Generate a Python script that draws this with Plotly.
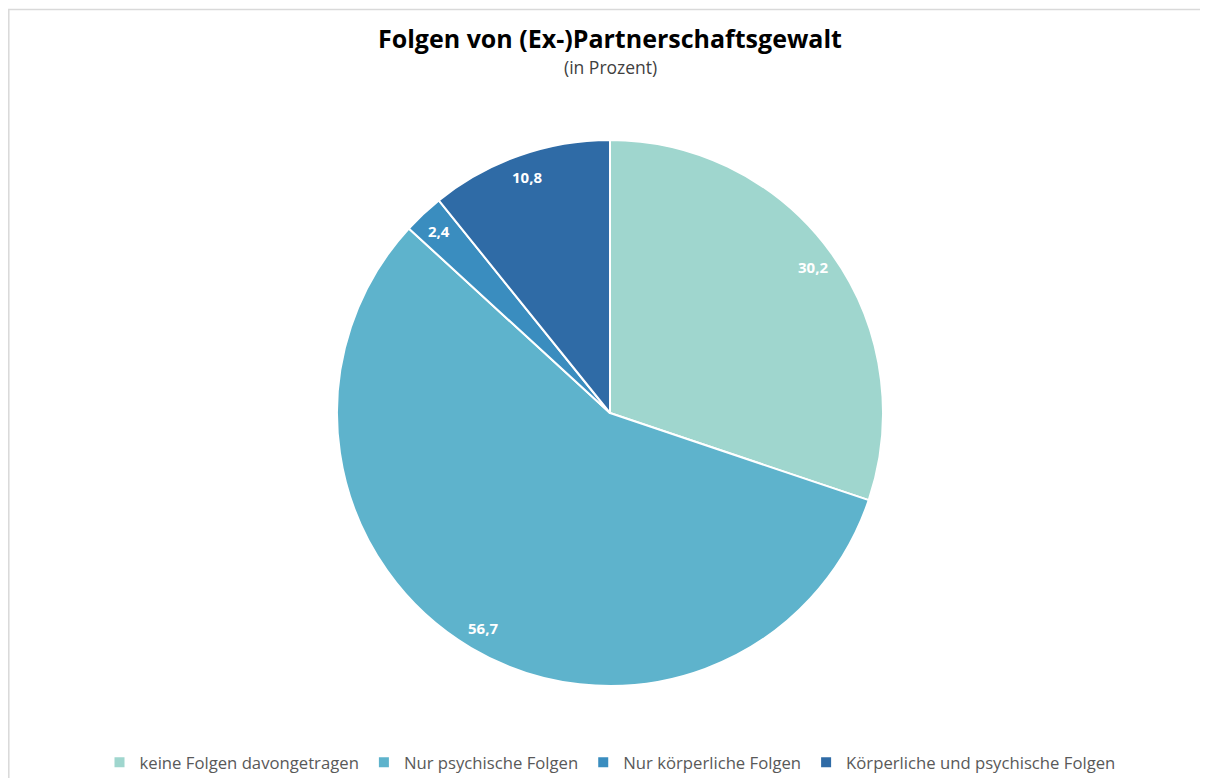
import math
import plotly.graph_objects as go

categories = ["keine Folgen davongetragen", "Nur psychische Folgen",
              "Nur körperliche Folgen", "Körperliche und psychische Folgen"]
values = [30.2, 56.7, 2.4, 10.8]
colors = ["#9FD6CE", "#5EB3CC", "#3A8DBF", "#2F6BA6"]

# page body has an 8px margin, so the figure is 8px smaller
W, H = 1200, 770
cx, cy, R = 602, 405, 273

fig = go.Figure(go.Pie(
    labels=categories, values=values, sort=False, direction="clockwise", rotation=0,
    marker=dict(colors=colors, line=dict(color="white", width=2)),
    textinfo="none", hoverinfo="label+value",
    domain=dict(x=[(cx - R) / W, (cx + R) / W], y=[1 - (cy + R) / H, 1 - (cy - R) / H]),
))

# data labels near the outer edge of each slice
total = sum(values)
cum = 0
for v in values:
    mid = (cum + v / 2) / total * 2 * math.pi
    cum += v
    rr = 0.915 * R
    px = cx + rr * math.sin(mid)
    py = cy - rr * math.cos(mid)
    fig.add_annotation(x=px / W, y=1 - py / H, xref="paper", yref="paper",
                       xanchor="center", yanchor="middle",
                       text="<b>" + f"{v:.1f}".replace(".", ",") + "</b>", showarrow=False,
                       font=dict(family="Open Sans", size=15, color="white"))

fig.add_annotation(x=cx / W, y=1 - 30 / H, xref="paper", yref="paper",
                   xanchor="center", yanchor="middle",
                   text="<b>Folgen von (Ex-)Partnerschaftsgewalt</b>", showarrow=False,
                   font=dict(family="Open Sans", size=25, color="#000000"))
fig.add_annotation(x=cx / W, y=1 - 59 / H, xref="paper", yref="paper",
                   xanchor="center", yanchor="middle",
                   text="(in Prozent)", showarrow=False,
                   font=dict(family="Open Sans", size=17.5, color="#404040"))

fig.add_shape(type="rect", xref="paper", yref="paper",
              x0=0.8 / W, x1=1.02, y0=-0.02, y1=1 - 1.5 / H,
              line=dict(color="#D9D9D9", width=1.5))

fig.update_layout(
    width=W, height=H, margin=dict(l=0, r=0, t=0, b=0, autoexpand=False),
    paper_bgcolor="white", plot_bgcolor="white",
    showlegend=True,
    legend=dict(orientation="h", x=cx / W, xanchor="center", y=1 - 737 / H, yanchor="top",
                font=dict(family="Open Sans", size=16.7, color="#595959"),
                traceorder="normal"),
)

fig.write_html("out.html")
